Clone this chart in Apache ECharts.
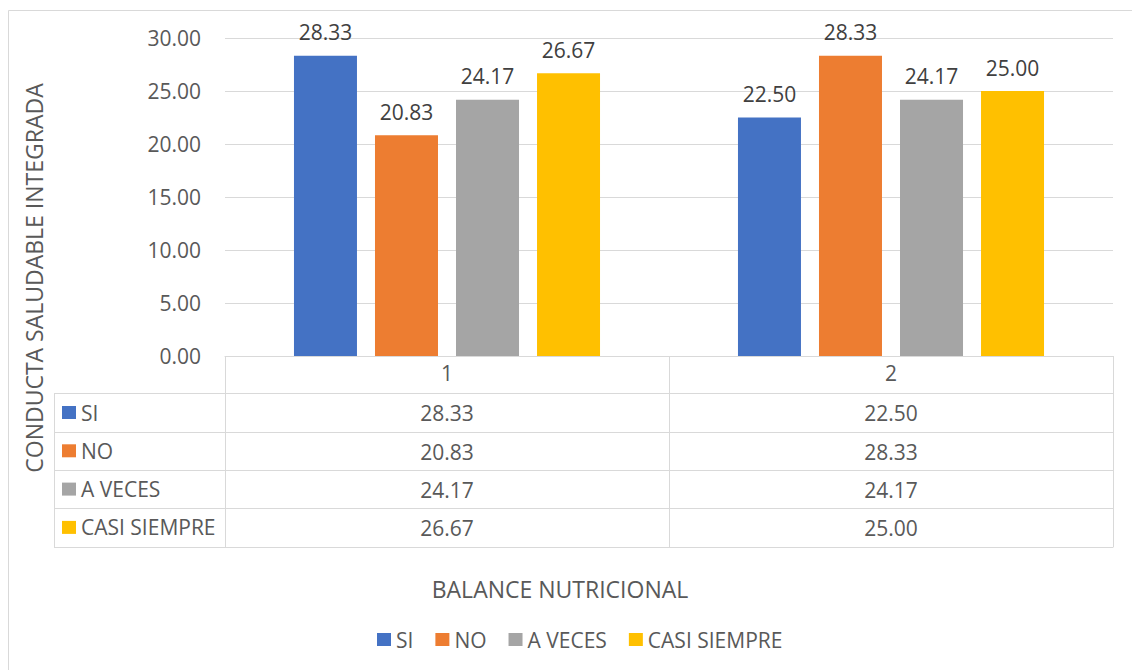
<!DOCTYPE html>
<html>
<head>
<meta charset="utf-8">
<script src="https://cdn.jsdelivr.net/npm/echarts@6/dist/echarts.min.js"></script>
<style>
html,body{margin:0;padding:0;background:#fff;}
#chart{width:1132px;height:670px;}
</style>
</head>
<body>
<div id="chart"></div>
<script>
// ---- data ----
const categories = ['1', '2'];
const seriesNames = ['SI', 'NO', 'A VECES', 'CASI SIEMPRE'];
const siValues = [28.33, 22.50];
const noValues = [20.83, 28.33];
const aVecesValues = [24.17, 24.17];
const casiSiempreValues = [26.67, 25.00];
const yMin = 0, yMax = 30, yInterval = 5;
const yAxisTitle = 'CONDUCTA SALUDABLE INTEGRADA';
const xAxisTitle = 'BALANCE NUTRICIONAL';

// ---- styles ----
const colors = ['#4472C4', '#ED7D31', '#A5A5A5', '#FFC000'];
const FONT = 'Open Sans';
const LINE = '#d9d9d9';
const TXT = '#595959';

const allValues = [siValues, noValues, aVecesValues, casiSiempreValues];

const GRID_L = 225, GRID_R = 19, GRID_T = 38, GRID_B = 314;
const axisBottomY = 670 - GRID_B; // 356
const rowOffsets = [37, 76, 114, 152];
const rowHeights = [39, 38, 38, 39];
const tableBottomOffset = 191;
const tableLeft = 54;

const chart = echarts.init(document.getElementById('chart'), null, {renderer: 'svg'});

const xAxes = [{
  type: 'category',
  data: categories,
  gridIndex: 0,
  position: 'bottom',
  axisLine: {show: true, lineStyle: {color: LINE, width: 1}},
  axisTick: {show: true, length: 37, lineStyle: {color: LINE, width: 1}},
  axisLabel: {color: TXT, fontFamily: FONT, fontSize: 21, margin: 6, lineHeight: 21}
}];
allValues.forEach((vals, k) => {
  xAxes.push({
    type: 'category',
    data: categories,
    gridIndex: 0,
    position: 'bottom',
    offset: rowOffsets[k],
    axisLine: {show: true, lineStyle: {color: LINE, width: 1}},
    axisTick: {show: true, length: rowHeights[k], lineStyle: {color: LINE, width: 1}},
    axisLabel: {color: TXT, fontFamily: FONT, fontSize: 21, margin: 9, lineHeight: 21,
      formatter: (v, i) => vals[i].toFixed(2)}
  });
});
xAxes.push({
  type: 'category',
  data: categories,
  gridIndex: 0,
  position: 'bottom',
  offset: tableBottomOffset,
  axisLine: {show: true, lineStyle: {color: LINE, width: 1}},
  axisTick: {show: false},
  axisLabel: {show: false}
});

const labelColLines = [];
[axisBottomY + rowOffsets[0], axisBottomY + rowOffsets[1], axisBottomY + rowOffsets[2], axisBottomY + rowOffsets[3], axisBottomY + tableBottomOffset].forEach(y => {
  labelColLines.push({type: 'line', shape: {x1: tableLeft, y1: y + 0.5, x2: GRID_L, y2: y + 0.5}, style: {stroke: LINE, lineWidth: 1}, silent: true});
});
labelColLines.push({type: 'line', shape: {x1: tableLeft + 0.5, y1: axisBottomY + rowOffsets[0], x2: tableLeft + 0.5, y2: axisBottomY + tableBottomOffset + 1}, style: {stroke: LINE, lineWidth: 1}, silent: true});

const legendText = {color: TXT, fontFamily: FONT, fontSize: 21};

const option = {
  backgroundColor: '#fff',
  animation: false,
  color: colors,
  textStyle: {fontFamily: FONT},
  grid: {left: GRID_L, right: GRID_R, top: GRID_T, bottom: GRID_B, containLabel: false, outerBoundsMode: 'none'},
  legend: [{
    data: seriesNames,
    orient: 'horizontal',
    left: 377,
    top: 629,
    padding: 0,
    icon: 'rect',
    itemWidth: 14,
    itemHeight: 13,
    itemGap: 22,
    selectedMode: false,
    textStyle: legendText
  }, {
    data: seriesNames,
    orient: 'vertical',
    left: 62,
    top: 402,
    padding: 0,
    icon: 'rect',
    itemWidth: 14,
    itemHeight: 13,
    itemGap: 17.3,
    selectedMode: false,
    textStyle: legendText
  }],
  xAxis: xAxes,
  yAxis: {
    type: 'value',
    min: yMin, max: yMax, interval: yInterval,
    axisLine: {show: false},
    axisTick: {show: false},
    axisLabel: {color: TXT, fontFamily: FONT, fontSize: 21, margin: 24, formatter: v => v.toFixed(2)},
    splitLine: {show: true, lineStyle: {color: LINE, width: 1}}
  },
  series: seriesNames.map((name, k) => ({
    name: name,
    type: 'bar',
    xAxisIndex: 0,
    yAxisIndex: 0,
    data: allValues[k],
    barWidth: 63,
    barGap: '28.6%',
    itemStyle: {color: colors[k]},
    label: {show: true, position: 'top', distance: 13, color: '#404040', fontFamily: FONT, fontSize: 21,
      formatter: p => p.value.toFixed(2)},
    emphasis: {disabled: true}
  })),
  graphic: [
    {type: 'rect', shape: {x: 8.5, y: 10.5, width: 1200, height: 700}, style: {fill: 'none', stroke: LINE, lineWidth: 1}, silent: true, z: -1},
    {type: 'text', x: 34, y: 278, rotation: Math.PI / 2,
      style: {text: yAxisTitle, fill: TXT, font: '23px "Open Sans"', textAlign: 'center', textVerticalAlign: 'middle'}, silent: true},
    {type: 'text', x: 560, y: 589,
      style: {text: xAxisTitle, fill: TXT, font: '23px "Open Sans"', textAlign: 'center', textVerticalAlign: 'middle'}, silent: true}
  ].concat(labelColLines)
};
chart.setOption(option);
</script>
</body>
</html>
